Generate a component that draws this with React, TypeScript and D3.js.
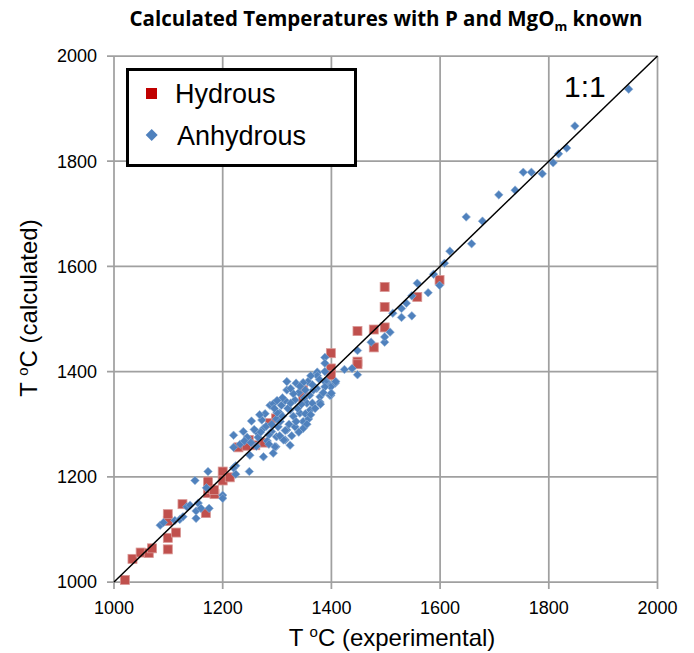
import React from "react";
import * as d3 from "d3";

const xTicks = [1000, 1200, 1400, 1600, 1800, 2000];
const yTicks = [1000, 1200, 1400, 1600, 1800, 2000];

const hydrous: [number, number][] = [
  [1020, 1004], [1034, 1044], [1049, 1056], [1064, 1055], [1070, 1064], [1099, 1062],
  [1099, 1084], [1114, 1094], [1099, 1116], [1099, 1129], [1126, 1148], [1169, 1131],
  [1173, 1169], [1185, 1167], [1177, 1177], [1184, 1175], [1173, 1191], [1200, 1210],
  [1200, 1193], [1213, 1199], [1229, 1256], [1248, 1270], [1244, 1259], [1274, 1265],
  [1260, 1260], [1287, 1302], [1298, 1311], [1348, 1365], [1348, 1351], [1399, 1435],
  [1399, 1406], [1399, 1393], [1448, 1419], [1448, 1414], [1448, 1477], [1478, 1480],
  [1478, 1446], [1498, 1561], [1498, 1523], [1498, 1484], [1558, 1542], [1599, 1574],
];

const anhydrous: [number, number][] = [
  [1085, 1108], [1091, 1113], [1112, 1117], [1121, 1119], [1127, 1124], [1134, 1143],
  [1140, 1146], [1155, 1150], [1151, 1135], [1160, 1140], [1151, 1121], [1175, 1140],
  [1170, 1179], [1149, 1193], [1173, 1210], [1200, 1165], [1200, 1159], [1224, 1205],
  [1224, 1221], [1249, 1210], [1220, 1217],
  [1220, 1256], [1220, 1279], [1238, 1286], [1253, 1306], [1272, 1308], [1262, 1286],
  [1275, 1292], [1275, 1238], [1250, 1241], [1298, 1257], [1299, 1276], [1315, 1270],
  [1318, 1289], [1333, 1295], [1348, 1305], [1348, 1292], [1299, 1310], [1287, 1336],
  [1293, 1339], [1308, 1336], [1318, 1381], [1335, 1378], [1315, 1288], [1327, 1278],
  [1312, 1270], [1324, 1260], [1296, 1257], [1342, 1321], [1361, 1327], [1373, 1368],
  [1379, 1352], [1397, 1355], [1397, 1374], [1391, 1381], [1407, 1378], [1373, 1397],
  [1305, 1321], [1324, 1327], [1333, 1346], [1355, 1340], [1290, 1286], [1318, 1365],
  [1357, 1381], [1367, 1365], [1348, 1379], [1379, 1342], [1399, 1371], [1399, 1355],
  [1408, 1381], [1388, 1381], [1388, 1371], [1400, 1359], [1374, 1399], [1374, 1392],
  [1388, 1400], [1388, 1427], [1388, 1416],
  [1265, 1275], [1270, 1285], [1280, 1296], [1285, 1280], [1282, 1268], [1290, 1300],
  [1302, 1295], [1306, 1305], [1310, 1315], [1300, 1322], [1295, 1330], [1315, 1345],
  [1320, 1330], [1325, 1340], [1330, 1315], [1335, 1305], [1338, 1330], [1345, 1338],
  [1350, 1350], [1352, 1320], [1358, 1310], [1360, 1355], [1365, 1340], [1370, 1330],
  [1340, 1360], [1330, 1358], [1325, 1368], [1310, 1350], [1300, 1345], [1278, 1320],
  [1268, 1318], [1258, 1290], [1245, 1275], [1232, 1262], [1240, 1268], [1252, 1265],
  [1262, 1258], [1285, 1262], [1293, 1245], [1305, 1278], [1322, 1300], [1340, 1285],
  [1355, 1300], [1362, 1318], [1380, 1338], [1385, 1360], [1378, 1385], [1365, 1375],
  [1352, 1365], [1342, 1372], [1362, 1392],
  [1424, 1404], [1438, 1406], [1448, 1394], [1448, 1440], [1473, 1456], [1498, 1456],
  [1498, 1466], [1508, 1475], [1513, 1511], [1529, 1503], [1529, 1520], [1538, 1530],
  [1548, 1544], [1548, 1506], [1558, 1568], [1578, 1550], [1588, 1585], [1599, 1564],
  [1608, 1606], [1618, 1629], [1658, 1643], [1648, 1694], [1678, 1686], [1708, 1736],
  [1738, 1745], [1753, 1779], [1768, 1779], [1788, 1776], [1808, 1797], [1818, 1814],
  [1833, 1825], [1848, 1867], [1947, 1937],
];

const oneToOne: [number, number][] = [[1000, 1000], [2000, 2000]];

export default function App() {
  const x = d3.scaleLinear().domain([1000, 2000]).range([114, 657.5]);
  const y = d3.scaleLinear().domain([1000, 2000]).range([582, 56]);
  const line = d3.line<[number, number]>().x((d) => x(d[0])).y((d) => y(d[1]));
  const grid = "#a0a0a0";
  const sans = "'Liberation Sans', Arial, sans-serif";
  const dia = (cx: number, cy: number, r: number) =>
    `M${cx},${cy - r}L${cx + r},${cy}L${cx},${cy + r}L${cx - r},${cy}Z`;

  return (
    <svg width={694} height={653} style={{ position: "absolute", left: 0, top: 0, background: "#fff" }}>
      <text x={386} y={26} textAnchor="middle" fontFamily="'Open Sans', sans-serif" fontWeight="bold" fontSize={20.5}>
        Calculated Temperatures with P and MgO<tspan fontSize={13} dy={5}>m</tspan><tspan dy={-5}> known</tspan>
      </text>
      {xTicks.map((t) => (
        <g key={"x" + t}>
          <line x1={x(t)} x2={x(t)} y1={y(2000)} y2={y(1000) + 7} stroke={grid} strokeWidth={1.75} />
          <text x={x(t)} y={614} textAnchor="middle" fontFamily={sans} fontSize={18}>{t}</text>
        </g>
      ))}
      {yTicks.map((t) => (
        <g key={"y" + t}>
          <line x1={x(1000) - 7} x2={x(2000)} y1={y(t)} y2={y(t)} stroke={grid} strokeWidth={1.75} />
          <text x={97} y={y(t) + 6.3} textAnchor="end" fontFamily={sans} fontSize={18}>{t}</text>
        </g>
      ))}
      <text x={392} y={646} textAnchor="middle" fontFamily={sans} fontSize={24}>
        T <tspan fontSize={15} dy={-9}>o</tspan><tspan dy={9}>C (experimental)</tspan>
      </text>
      <text transform="translate(37,308) rotate(-90)" textAnchor="middle" fontFamily={sans} fontSize={24}>
        T <tspan fontSize={15} dy={-9}>o</tspan><tspan dy={9}>C (calculated)</tspan>
      </text>
      {hydrous.map((d, i) => (
        <rect key={"h" + i} x={x(d[0]) - 4.5} y={y(d[1]) - 4.5} width={9} height={9}
          fill="#c0504d" stroke="#d99694" strokeWidth={0.8} />
      ))}
      {anhydrous.map((d, i) => (
        <path key={"a" + i} d={dia(x(d[0]), y(d[1]), 4.3)} fill="#4f81bd" stroke="#95b3d7" strokeWidth={0.6} />
      ))}
      <path d={line(oneToOne) || ""} stroke="#000" strokeWidth={1.5} fill="none" />
      <text x={564} y={97} fontFamily={sans} fontSize={30}>1:1</text>
      <rect x={127.5} y={69.5} width={228} height={96} fill="#fff" stroke="#000" strokeWidth={3} />
      <rect x={146} y={88} width={11} height={11} fill="#c00000" />
      <text x={175} y={103} fontFamily={sans} fontSize={27}>Hydrous</text>
      <path d={dia(151.7, 135, 6)} fill="#4f81bd" />
      <text x={177} y={145} fontFamily={sans} fontSize={27}>Anhydrous</text>
    </svg>
  );
}
